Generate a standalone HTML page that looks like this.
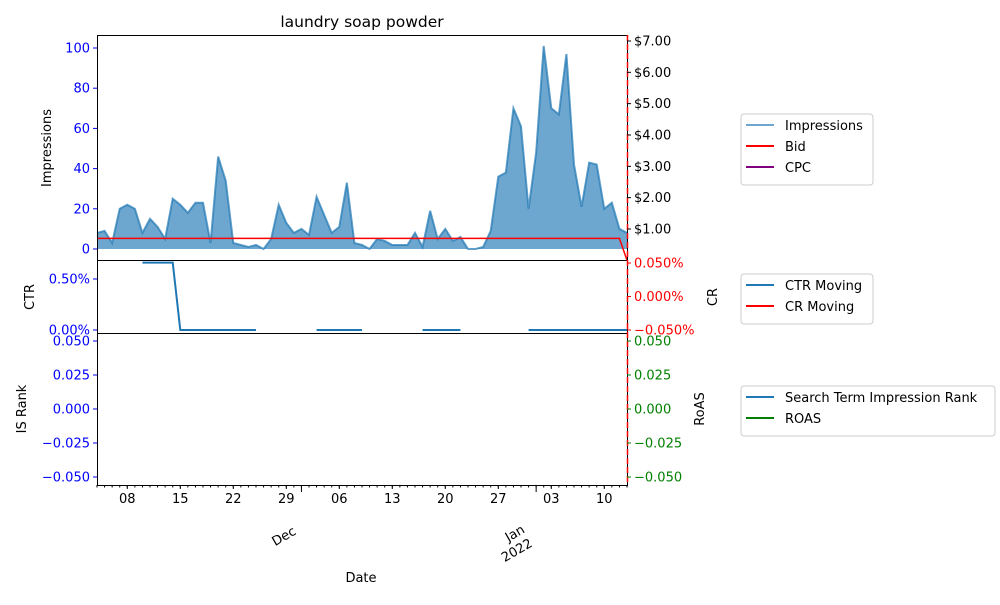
<!DOCTYPE html>
<html><head><meta charset="utf-8"><style>
body{margin:0;background:#fff}
svg{font-family:"DejaVu Sans","Liberation Sans",sans-serif;font-size:13px}
</style></head><body>
<svg id="c" width="1000" height="600" viewBox="0 0 1000 600"></svg>
<script>
const impressions=[8,9,3,20,22,20,8,15,11,5,25,22,18,23,23,3,46,34,3,2,1,2,0,5,22,13,8,10,7,26,17,8,11,33,3,2,0,5,4,2,2,2,8,1,19,5,10,4,6,0,0,1,9,36,38,70,61,20,48,101,70,67,97,42,21,43,42,20,23,10,8];
const bid=[0.7,0.7,0.7,0.7,0.7,0.7,0.7,0.7,0.7,0.7,0.7,0.7,0.7,0.7,0.7,0.7,0.7,0.7,0.7,0.7,0.7,0.7,0.7,0.7,0.7,0.7,0.7,0.7,0.7,0.7,0.7,0.7,0.7,0.7,0.7,0.7,0.7,0.7,0.7,0.7,0.7,0.7,0.7,0.7,0.7,0.7,0.7,0.7,0.7,0.7,0.7,0.7,0.7,0.7,0.7,0.7,0.7,0.7,0.7,0.7,0.7,0.7,0.7,0.7,0.7,0.7,0.7,0.7,0.7,0.7,0];
const N=null;
const ctr=[N,N,N,N,N,N,0.66,0.66,0.66,0.66,0.66,0,0,0,0,0,0,0,0,0,0,0,N,N,N,N,N,N,N,0,0,0,0,0,0,0,N,N,N,N,N,N,N,0,0,0,0,0,0,N,N,N,N,N,N,N,N,0,0,0,0,0,0,0,0,0,0,0,0,0,0];
const weekLabels=["08","15","22","29","06","13","20","27","03","10"];
const weekDays=[4,11,18,25,32,39,46,53,60,67];
const monthDays=[27,58];
const impTicks=[0,20,40,60,80,100];
const bidTicks=[1,2,3,4,5,6,7];
const ctrTicks=[0,0.5];
const crTicks=[-0.05,0,0.05];
const isTicks=[-0.05,-0.025,0,0.025,0.05];

const S=document.getElementById('c');const NS='http://www.w3.org/2000/svg';
function el(t,a,txt){const e=document.createElementNS(NS,t);for(const k in a)e.setAttribute(k,a[k]);if(txt!=null)e.textContent=txt;S.appendChild(e);return e;}
const X0=97,X1=627;
const x=d=>X0+(X1-X0)*d/70;
const yImp=v=>249-v*2.01;
const yBid=v=>260.3-v*31.33;
const yCtr=v=>330-v*102;
const yCr=v=>296.5-v*670;
const yIs=v=>409-v*1360;

let t=el('text',{x:362,y:27,'text-anchor':'middle','font-size':'15.5'},'laundry soap powder');


let pts=impressions.map((v,i)=>x(i)+','+yImp(v)).join(' ');
let a=el('polygon',{points:x(0)+','+yImp(0)+' '+pts+' '+x(70)+','+yImp(0),fill:'#1f77b4','fill-opacity':0.65,stroke:'none'});

let l=el('polyline',{points:pts,fill:'none',stroke:'#1f77b4','stroke-opacity':0.7,'stroke-width':2});

let b=el('polyline',{points:bid.map((v,i)=>x(i)+','+yBid(v)).join(' '),fill:'none',stroke:'red','stroke-width':1.5});


let seg=[];
function flush(){if(seg.length>1){let c=el('polyline',{points:seg.join(' '),fill:'none',stroke:'#1f77b4','stroke-width':2});}seg=[];}
ctr.forEach((v,i)=>{if(v===null)flush();else seg.push(x(i)+','+yCtr(v));});flush();

[[35,260,'top-panel'],[260,333,'middle-panel'],[333,485,'bottom-panel']].forEach(p=>{
 let r=el('rect',{x:X0+0.5,y:p[0]+0.5,width:X1-X0,height:p[1]-p[0],fill:'none',stroke:'#000','stroke-width':1});
 
});
let rs=el('line',{x1:X1+0.5,y1:35,x2:X1+0.5,y2:485,stroke:'red','stroke-width':1.5,'stroke-dasharray':'6,3'});


function ytick(xp,yp,label,col,right,tcol){
 el('line',{x1:xp,y1:yp,x2:right?xp+4:xp-4,y2:yp,stroke:tcol||col,'stroke-width':1});
 let tx=el('text',{x:right?xp+7:xp-7,y:yp+4.5,'text-anchor':right?'start':'end',fill:col},label);
 
}
impTicks.forEach(v=>ytick(X0,yImp(v),String(v),'blue'));
bidTicks.forEach(v=>ytick(X1,yBid(v),'$'+v.toFixed(2),'#000',true));
ctrTicks.forEach(v=>ytick(X0,yCtr(v),v.toFixed(2)+'%','blue'));
crTicks.forEach(v=>ytick(X1,yCr(v),(v<0?'\u2212':'')+Math.abs(v).toFixed(3)+'%','red',true));
isTicks.forEach(v=>ytick(X0,yIs(v),(v<0?'\u2212':'')+Math.abs(v).toFixed(3),'blue'));
isTicks.forEach(v=>ytick(X1,yIs(v),(v<0?'\u2212':'')+Math.abs(v).toFixed(3),'green',true));

for(let d=0;d<=70;d++)el('line',{x1:x(d),y1:485,x2:x(d),y2:487.5,stroke:'#000'});
weekDays.forEach((d,i)=>{el('line',{x1:x(d),y1:485,x2:x(d),y2:489,stroke:'#000'});
 let tx=el('text',{x:x(d),y:503,'text-anchor':'middle'},weekLabels[i]);
 });
monthDays.forEach(d=>el('line',{x1:x(d),y1:485,x2:x(d),y2:492,stroke:'#000'}));
let dec=el('text',{x:286,y:540,'text-anchor':'middle',transform:'rotate(-30 286 540)'},'Dec');

let jan=el('text',{x:517,y:537,'text-anchor':'middle',transform:'rotate(-30 517 537)'},'Jan');

let yr=el('text',{x:519,y:554,'text-anchor':'middle',transform:'rotate(-30 519 554)'},'2022');


function lab(xp,yp,txt,rot,name){let e=el('text',{x:xp,y:yp,'text-anchor':'middle',transform:rot?'rotate(-90 '+xp+' '+yp+')':''},txt);}
lab(361,582,'Date',false,'x-axis-title');
lab(51,148,'Impressions',true,'y-axis-title-impressions');
lab(34,297,'CTR',true,'y-axis-title-ctr');
lab(26,409,'IS Rank',true,'y-axis-title-is-rank');
lab(717,297,'CR',true,'y-axis-title-cr');
lab(704,409,'RoAS',true,'y-axis-title-roas');

function legend(x0,y0,w,items,name){
 let r=el('rect',{x:x0,y:y0,width:w,height:8+items.length*21,rx:3,fill:'#fff',stroke:'#ccc'});
 
 items.forEach((it,i)=>{let yy=y0+11+i*21;
  el('line',{x1:x0+5,y1:yy,x2:x0+33,y2:yy,stroke:it[1],'stroke-width':2,'stroke-opacity':it[2]||1});
  let tx=el('text',{x:x0+44,y:yy+5},it[0]);});
}
legend(741,114,132,[['Impressions','#1f77b4',0.65],['Bid','red'],['CPC','purple']],'legend-top');
legend(741,274,132,[['CTR Moving','#1f77b4'],['CR Moving','red']],'legend-middle');
legend(741,386,254,[['Search Term Impression Rank','#1f77b4'],['ROAS','green']],'legend-bottom');
</script>
</body></html>
